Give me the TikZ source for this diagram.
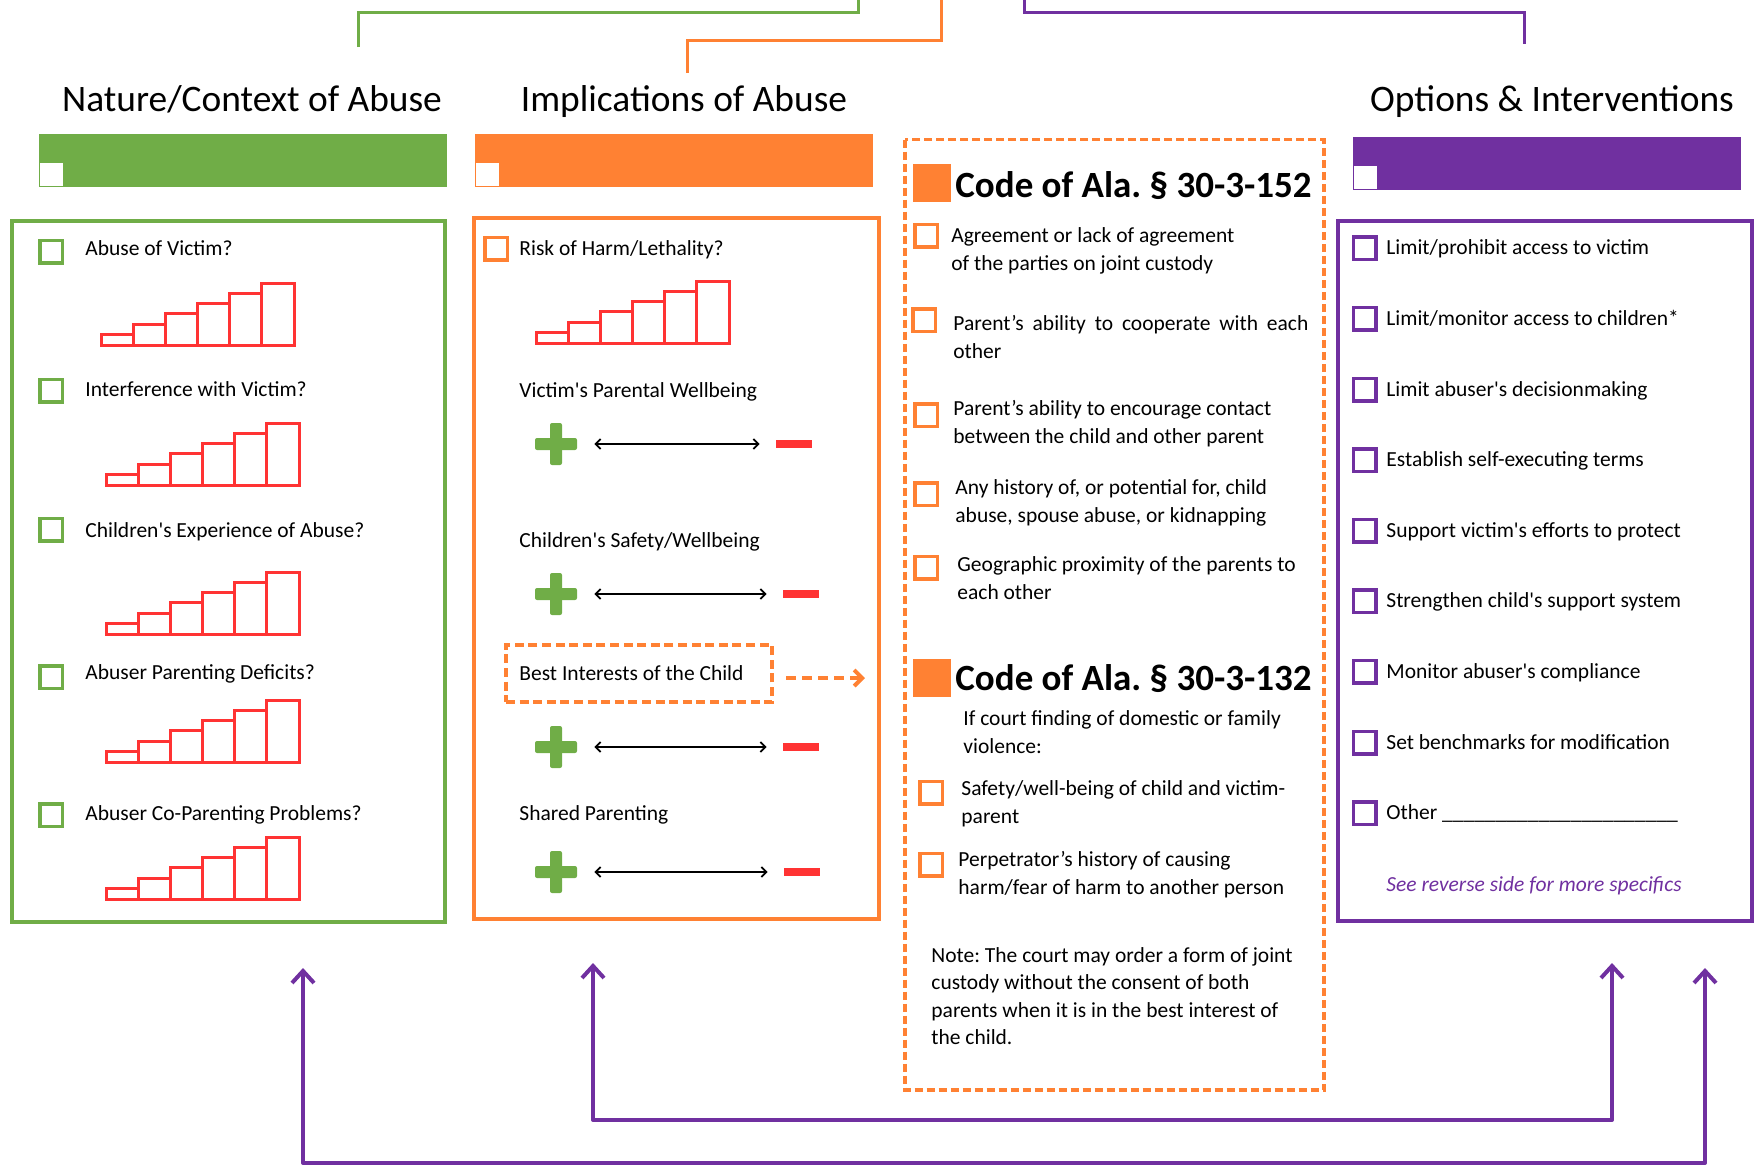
\documentclass[tikz,border=0pt]{standalone}
\usepackage{fontspec}
\setmainfont{Carlito}
\usepackage{tikz}
\usetikzlibrary{arrows.meta,positioning}
\frenchspacing

\definecolor{natgreen}{HTML}{70AD47}
\definecolor{imporange}{HTML}{FF8133}
\definecolor{optpurple}{HTML}{7030A0}
\definecolor{stairred}{HTML}{FF3333}

\begin{document}
\begin{tikzpicture}[x=0.5pt, y=-0.5pt,
    every node/.style={inner sep=0pt},
    heading/.style={font=\fontsize{18.7}{22}\selectfont, anchor=base},
    codehead/.style={font=\fontsize{18.5}{22}\selectfont\bfseries, anchor=base west},
    itemtext/.style={font=\fontsize{10.75}{14}\selectfont, anchor=base west, align=left},
    chk/.style={draw, line width=1.75pt, minimum size=11.25pt},
    bartab/.style={fill=white, minimum size=11.5pt},
    codemark/.style={fill=imporange, minimum size=19pt},
    plusbar/.style={fill=natgreen, rounded corners=1pt, minimum width=21pt, minimum height=6pt},
    minusbar/.style={fill=stairred, minimum width=18pt, minimum height=3.9pt},
    scalearrow/.style={>={Straight Barb[length=2.5pt,width=5pt]}, <->, line width=0.9pt, shorten <=8.5pt, shorten >=8pt},
    topline/.style={line width=1.5pt},
    loopline/.style={draw=optpurple, line width=2pt, line join=round, >={Straight Barb[length=6pt,width=11pt]}, <->},
    stairs/.pic={
      \draw[stairred, line width=1.5pt]
        (0,0) rectangle (32,-11) (32,0) rectangle (64,-21) (64,0) rectangle (96,-32)
        (96,0) rectangle (128,-42) (128,0) rectangle (160,-52) (160,0) rectangle (193,-62);
    }]
  \useasboundingbox (0,0) rectangle (1754,1168);

  % links along the top
  \coordinate (gfoot) at (358,47);
  \coordinate (gtop) at (858,0);
  \coordinate (ofoot) at (687,73);
  \coordinate (otop) at (941,0);
  \coordinate (ptop) at (1024,0);
  \coordinate (pfoot) at (1524,44);
  \draw[topline, natgreen] (gfoot) -- ++(0,-35) -| (gtop);
  \draw[topline, imporange] (ofoot) -- ++(0,-33) -| (otop);
  \draw[topline, optpurple] (ptop) -- ++(0,12) -| (pfoot);

  % column heads
  \node[heading] (nathead) at (252,111) {Nature/Context of Abuse};
  \node[heading] (imphead) at (684,111) {Implications of Abuse};
  \node[heading] (opthead) at (1552,111) {Options \& Interventions};
  \fill[natgreen] (38.5,134) rectangle (447,186.5);
  \fill[imporange] (475,134) rectangle (872.5,186.5);
  \fill[optpurple] (1353,137) rectangle (1741,190);
  \node[bartab] (nattab) at (51,174) {};
  \node[bartab] (imptab) at (487.5,174) {};
  \node[bartab] (opttab) at (1365,177) {};

  % panels
  \draw[natgreen, line width=2pt] (12,221) rectangle (445,922);
  \draw[imporange, line width=2pt] (474,218) rectangle (878.5,919);
  \draw[optpurple, line width=2pt] (1337.5,220.5) rectangle (1751.5,920.5);
  \draw[imporange, line width=1.65pt, dash pattern=on 4pt off 2pt] (905,139.5) rectangle (1324,1090);

  % nature / context
  \node[chk, draw=natgreen] (n1box) at (51,251.5) {};
  \node[itemtext] (n1) at (85,255) {Abuse of Victim?};
  \pic at (101,345) {stairs};
  \node[chk, draw=natgreen] (n2box) at (51,390.5) {};
  \node[itemtext] (n2) at (85,396.5) {Interference with Victim?};
  \pic at (106,485) {stairs};
  \node[chk, draw=natgreen] (n3box) at (51,529.5) {};
  \node[itemtext] (n3) at (85,537.5) {Children\textquotesingle s Experience of Abuse?};
  \pic at (106,634) {stairs};
  \node[chk, draw=natgreen] (n4box) at (51,677) {};
  \node[itemtext] (n4) at (85,679.5) {Abuser Parenting Deficits?};
  \pic at (106,762) {stairs};
  \node[chk, draw=natgreen] (n5box) at (51,815) {};
  \node[itemtext] (n5) at (85,820.5) {Abuser Co-Parenting Problems?};
  \pic at (106,899) {stairs};

  % implications
  \node[chk, draw=imporange] (i1box) at (496,248.5) {};
  \node[itemtext] (i1) at (519,255) {Risk of Harm/Lethality?};
  \pic at (536,343) {stairs};
  \node[itemtext] (i2) at (519,397) {Victim\textquotesingle s Parental Wellbeing};
  \node[plusbar] (p1) at (556,444) {};
  \node[plusbar, minimum width=6pt, minimum height=21pt] (p1v) at (p1) {};
  \node[minusbar] (m1) at (794,444) {};
  \draw[scalearrow] (p1) -- (m1);
  \node[itemtext] (i3) at (519,547) {Children\textquotesingle s Safety/Wellbeing};
  \node[plusbar] (p2) at (556,594) {};
  \node[plusbar, minimum width=6pt, minimum height=21pt] (p2v) at (p2) {};
  \node[minusbar] (m2) at (801,594) {};
  \draw[scalearrow] (p2) -- (m2);
  \node[draw=imporange, line width=2pt, dash pattern=on 4.5pt off 2.3pt,
        minimum width=133pt, minimum height=28.5pt] (best) at (639,673.5) {};
  \node[itemtext] (besttext) at (519,680) {Best Interests of the Child};
  \coordinate (bestend) at (865,678);
  \draw[imporange, line width=2pt, dash pattern=on 5pt off 3pt, >={Straight Barb[length=4pt,width=8pt]}, ->, shorten <=6pt] (best.east |- bestend) -- (bestend);
  \node[plusbar] (p3) at (556,747) {};
  \node[plusbar, minimum width=6pt, minimum height=21pt] (p3v) at (p3) {};
  \node[minusbar] (m3) at (801,747) {};
  \draw[scalearrow] (p3) -- (m3);
  \node[itemtext] (i4) at (519,820) {Shared Parenting};
  \node[plusbar] (p4) at (556,872) {};
  \node[plusbar, minimum width=6pt, minimum height=21pt] (p4v) at (p4) {};
  \node[minusbar] (m4) at (802,872) {};
  \draw[scalearrow] (p4) -- (m4);

  % statute box (multi-line texts sit on their last baseline)
  \node[codemark] (c1mark) at (932,183) {};
  \node[codehead] (c1) at (955,197) {Code of Ala. § 30-3-152};
  \node[chk, draw=imporange] (c1box) at (926,235.5) {};
  \node[itemtext] (c1a) at (951,270) {Agreement or lack of agreement\\of the parties on joint custody};
  \node[chk, draw=imporange] (c2box) at (924,320) {};
  \node[itemtext, text width=177.5pt, align=justify] (c1b) at (953,330) {Parent’s ability to cooperate with each other};
  \node[chk, draw=imporange] (c3box) at (926,415) {};
  \node[itemtext] (c1c) at (953,443) {Parent’s ability to encourage contact\\between the child and other parent};
  \node[chk, draw=imporange] (c4box) at (926,494) {};
  \node[itemtext] (c1d) at (955,522) {Any history of, or potential for, child\\abuse, spouse abuse, or kidnapping};
  \node[chk, draw=imporange] (c5box) at (926,567.5) {};
  \node[itemtext] (c1e) at (957,599) {Geographic proximity of the parents to\\each other};
  \node[codemark] (c2mark) at (932,678) {};
  \node[codehead] (c2) at (955,690) {Code of Ala. § 30-3-132};
  \node[itemtext] (c2a) at (963,753) {If court finding of domestic or family\\violence:};
  \node[chk, draw=imporange] (c6box) at (931,792.5) {};
  \node[itemtext] (c2b) at (961,823) {Safety/well-being of child and victim-\\parent};
  \node[chk, draw=imporange] (c7box) at (931,864.5) {};
  \node[itemtext] (c2c) at (958,894) {Perpetrator’s history of causing\\harm/fear of harm to another person};
  \node[itemtext, font=\fontsize{10.75}{13.75}\selectfont] (note) at (931,1044.5) {Note: The court may order a form of joint\\custody without the consent of both\\parents when it is in the best interest of\\the child.};

  % options
  \node[chk, draw=optpurple] (o1box) at (1364.5,248.3) {};
  \node[itemtext] (o1) at (1386,254.8) {Limit/prohibit access to victim};
  \node[chk, draw=optpurple] (o2box) at (1364.5,318.9) {};
  \node[itemtext] (o2) at (1386,325.4) {Limit/monitor access to children*};
  \node[chk, draw=optpurple] (o3box) at (1364.5,389.5) {};
  \node[itemtext] (o3) at (1386,396) {Limit abuser\textquotesingle s decisionmaking};
  \node[chk, draw=optpurple] (o4box) at (1364.5,460.1) {};
  \node[itemtext] (o4) at (1386,466.6) {Establish self-executing terms};
  \node[chk, draw=optpurple] (o5box) at (1364.5,530.7) {};
  \node[itemtext] (o5) at (1386,537.2) {Support victim\textquotesingle s efforts to protect};
  \node[chk, draw=optpurple] (o6box) at (1364.5,601.3) {};
  \node[itemtext] (o6) at (1386,607.8) {Strengthen child\textquotesingle s support system};
  \node[chk, draw=optpurple] (o7box) at (1364.5,671.9) {};
  \node[itemtext] (o7) at (1386,678.4) {Monitor abuser\textquotesingle s compliance};
  \node[chk, draw=optpurple] (o8box) at (1364.5,742.5) {};
  \node[itemtext] (o8) at (1386,749) {Set benchmarks for modification};
  \node[chk, draw=optpurple] (o9box) at (1364.5,813.1) {};
  \node[itemtext] (o9) at (1386,819.6) {Other \_\_\_\_\_\_\_\_\_\_\_\_\_\_\_\_\_\_\_\_\_\_};
  \node[itemtext, text=optpurple, font=\fontsize{10.75}{14}\selectfont\itshape] (more) at (1386,891) {See reverse side for more specifics};

  % feedback loops at the bottom
  \coordinate (otl) at (303,968);
  \coordinate (otr) at (1705,968);
  \coordinate (itl) at (593,963);
  \coordinate (itr) at (1612,963);
  \draw[loopline] (otl) -- ++(0,195) -| (otr);
  \draw[loopline] (itl) -- ++(0,157) -| (itr);
\end{tikzpicture}
\end{document}
